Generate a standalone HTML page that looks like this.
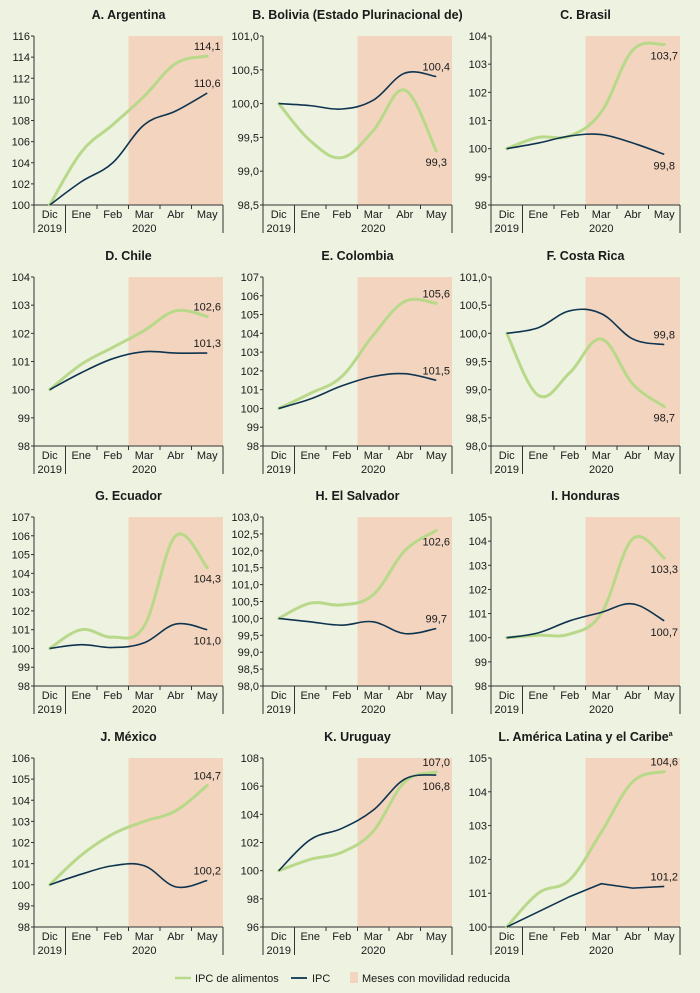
<!DOCTYPE html>
<html><head><meta charset="utf-8">
<style>
html,body{margin:0;padding:0;background:#eef2e1;}
svg{display:block;font-family:"Liberation Sans Narrow","Liberation Sans",sans-serif;}
</style></head>
<body>
<svg id="c" width="700" height="993" viewBox="0 0 700 993">
<rect width="700" height="993" fill="#eef2e1"/>
<g>
<line x1="175" y1="978" x2="191" y2="978" stroke="#b8d98a" stroke-width="2.5"/>
<text x="195" y="982" font-size="11" fill="#1a1a1a">IPC de alimentos</text>
<line x1="291" y1="978" x2="307" y2="978" stroke="#1f4a60" stroke-width="2"/>
<text x="312" y="982" font-size="11" fill="#1a1a1a">IPC</text>
<rect x="350" y="972" width="8" height="11" fill="#f3d5bf"/>
<text x="362" y="982" font-size="11" fill="#1a1a1a">Meses con movilidad reducida</text>
</g>
</svg>
<script>
const titles=["A. Argentina","B. Bolivia (Estado Plurinacional de)","C. Brasil","D. Chile","E. Colombia","F. Costa Rica","G. Ecuador","H. El Salvador","I. Honduras","J. México","K. Uruguay","L. América Latina y el Caribe"];
const months=["Dic","Ene","Feb","Mar","Abr","May"];
const yMin=[100,98.5,98,98,98,98,98,98,98,98,96,100];
const yMax=[116,101,104,104,107,101,107,103,105,106,108,105];
const yStep=[2,0.5,1,1,1,0.5,1,0.5,1,1,2,1];
const yDec=[0,1,0,0,0,1,0,1,0,0,0,0];
const food=[
[100,105,107.6,110.3,113.4,114.1],
[100,99.45,99.2,99.6,100.2,99.3],
[100,100.4,100.45,101.3,103.5,103.7],
[100,100.9,101.5,102.1,102.8,102.6],
[100,100.8,101.7,103.9,105.7,105.6],
[100,98.9,99.3,99.9,99.1,98.7],
[100,101,100.6,101.2,106,104.3],
[100,100.45,100.4,100.7,102,102.6],
[100,100.1,100.15,101,104.1,103.3],
[100,101.4,102.4,103,103.5,104.7],
[100,100.8,101.3,102.8,106.3,107],
[100,101,101.4,102.8,104.3,104.6]];
const ipc=[
[100,102.2,104,107.6,108.9,110.6],
[100,99.97,99.92,100.05,100.45,100.4],
[100,100.2,100.45,100.5,100.2,99.8],
[100,100.6,101.1,101.35,101.3,101.3],
[100,100.5,101.2,101.7,101.85,101.5],
[100,100.1,100.4,100.35,99.9,99.8],
[100,100.2,100.05,100.3,101.3,101.0],
[100,99.9,99.8,99.9,99.55,99.7],
[100,100.2,100.7,101.05,101.4,100.7],
[100,100.5,100.9,100.9,99.9,100.2],
[100,102.2,103,104.3,106.5,106.8],
[100,100.45,100.9,101.28,101.15,101.2]];
const foodLabelAbove=[1,0,0,1,1,0,0,0,0,1,1,1];
const ipcLabelAbove=[1,1,0,1,1,1,0,1,0,1,0,1];
const colX=[34,263,491], rowY=[36,277,517,758], W=189, H=169;
const NS="http://www.w3.org/2000/svg";
const svg=document.getElementById('c');
function mk(t,a,p){const e=document.createElementNS(NS,t);for(const k in a)e.setAttribute(k,a[k]);p.appendChild(e);return e;}
function fmt(v,d){return v.toFixed(d).replace('.',',');}
function smooth(pts){let d="M"+pts[0][0]+","+pts[0][1];for(let i=0;i<pts.length-1;i++){const p0=pts[Math.max(0,i-1)],p1=pts[i],p2=pts[i+1],p3=pts[Math.min(pts.length-1,i+2)];const t=0.18;d+=" C"+(p1[0]+(p2[0]-p0[0])*t)+","+(p1[1]+(p2[1]-p0[1])*t)+" "+(p2[0]-(p3[0]-p1[0])*t)+","+(p2[1]-(p3[1]-p1[1])*t)+" "+p2[0]+","+p2[1];}return d;}
for(let i=0;i<12;i++){
 const x0=colX[i%3], y0=rowY[Math.floor(i/3)], cw=W/6;
 const g=mk('g',{},svg);
 
 
 const ys=v=>y0+H-(v-yMin[i])/(yMax[i]-yMin[i])*H;
 const xs=j=>x0+cw*(j+0.5);
 const sh=mk('rect',{x:x0+cw*3,y:y0,width:cw*3,height:H,fill:'#f3d5bf'},g);
 
 
 const tt=mk('text',{x:x0+W/2,y:y0-17,'text-anchor':'middle','font-size':'12.5','font-weight':'bold',fill:'#1a1a1a'},g);
 tt.textContent=titles[i];
 if(i==11){const s=mk('tspan',{'font-size':'7',dy:'-5'},tt);s.textContent='a';}
 
 
 mk('line',{x1:x0,y1:y0,x2:x0,y2:y0+H+28,stroke:'#333','stroke-width':1},g);
 const n=Math.round((yMax[i]-yMin[i])/yStep[i]);
 for(let k=0;k<=n;k++){const v=yMin[i]+k*yStep[i],y=ys(v);
  mk('line',{x1:x0-3,y1:y,x2:x0,y2:y,stroke:'#333','stroke-width':1},g);
  const t=mk('text',{x:x0-4,y:y+4,'text-anchor':'end','font-size':'11',fill:'#1a1a1a'},g);t.textContent=fmt(v,yDec[i]);
  
  }
 mk('line',{x1:x0,y1:y0+H,x2:x0+W,y2:y0+H,stroke:'#333','stroke-width':1},g);
 for(let j=1;j<=6;j++){const xx=x0+cw*j;const long=(j==1||j==6);
  mk('line',{x1:xx,y1:y0+H,x2:xx,y2:y0+H+(long?28:4),stroke:'#333','stroke-width':1},g);}
 months.forEach((m,j)=>{const t=mk('text',{x:xs(j),y:y0+H+13,'text-anchor':'middle','font-size':'11',fill:'#1a1a1a'},g);t.textContent=m;
  
  });
 [["2019",0],["2020",3]].forEach(a=>{const t=mk('text',{x:xs(a[1]),y:y0+H+27,'text-anchor':'middle','font-size':'11',fill:'#1a1a1a'},g);t.textContent=a[0];
  
  });
 const fp=food[i].map((v,j)=>[xs(j),ys(v)]), ip=ipc[i].map((v,j)=>[xs(j),ys(v)]);
 const lf=mk('path',{d:smooth(fp),fill:'none',stroke:'#b8d98a','stroke-width':3,'stroke-linecap':'round'},g);
 
 
 const li=mk('path',{d:i==11?"M"+ip.map(p=>p.join(',')).join(' L'):smooth(ip),fill:'none',stroke:'#0f3450','stroke-width':1.6},g);
 
 
 [[food[i][5],fp[5],foodLabelAbove[i],'food-end-label'],[ipc[i][5],ip[5],ipcLabelAbove[i],'cpi-end-label']].forEach(a=>{
  const t=mk('text',{x:a[1][0],y:a[2]?a[1][1]-6:a[1][1]+15,'text-anchor':'middle','font-size':'11',fill:'#1a1a1a'},g);t.textContent=fmt(a[0],1);
  
  });
}
</script>
</body></html>
